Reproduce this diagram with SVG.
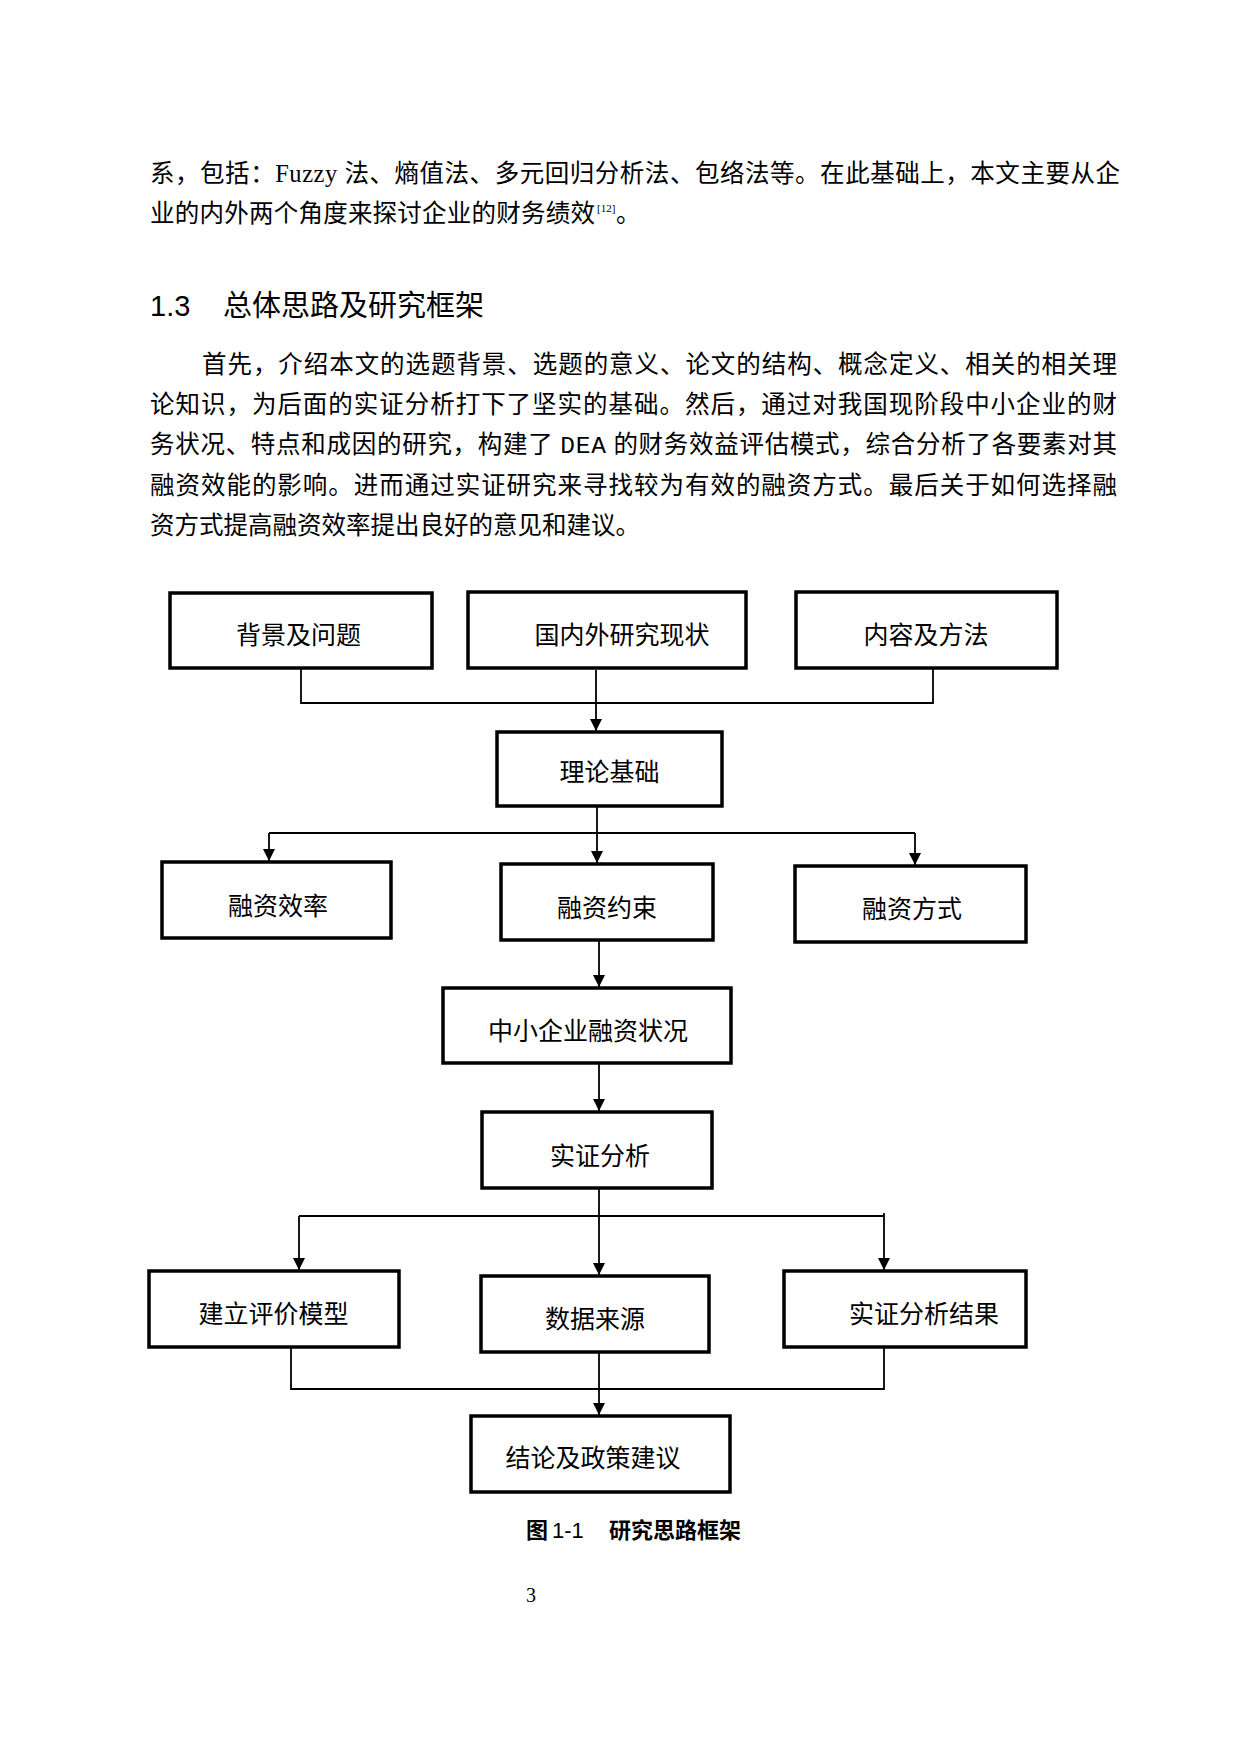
<svg xmlns="http://www.w3.org/2000/svg" width="1240" height="1754" viewBox="0 0 1240 1754">
<style>
.body{font-family:"Liberation Serif","Noto Sans CJK SC",serif;font-size:24.5px;fill:#000}
.mono{font-family:"Liberation Mono","Noto Sans CJK SC",monospace}
.head{font-family:"Noto Sans CJK SC","Liberation Sans",sans-serif;font-size:29px;fill:#000}
.box rect{fill:#fff;stroke:#000;stroke-width:3.5}
.box text{font-family:"Noto Sans CJK SC","Liberation Sans",sans-serif;font-size:25px;fill:#000;text-anchor:middle}
.conn{fill:none;stroke:#000;stroke-width:1.8}
.cap{font-family:"Noto Sans CJK SC","Liberation Sans",sans-serif;font-size:22px;font-weight:bold;fill:#000}
</style>
<defs>
<marker id="arr" markerUnits="userSpaceOnUse" markerWidth="12" markerHeight="12" refX="12" refY="6" orient="auto">
<path d="M0,0 L12,6 L0,12 z" fill="#000"/>
</marker>
</defs>
<rect width="1240" height="1754" fill="#fff"/>

<g id="text-top">
<text class="body" x="150" y="182" textLength="970" lengthAdjust="spacing">系，包括：Fuzzy 法、熵值法、多元回归分析法、包络法等。在此基础上，本文主要从企</text>
<text class="body" x="150" y="222" textLength="445" lengthAdjust="spacing">业的内外两个角度来探讨企业的财务绩效</text>
<text class="body" x="597" y="212" style="font-size:11px">[12]</text>
<text class="body" x="616" y="222">。</text>
</g>

<g id="heading">
<text class="head" x="150" y="315.5" style="font-family:'Liberation Sans',sans-serif">1.3</text>
<text class="head" x="223" y="315.5">总体思路及研究框架</text>
</g>

<g id="paragraph">
<text class="body" x="202" y="373" textLength="915" lengthAdjust="spacing">首先，介绍本文的选题背景、选题的意义、论文的结构、概念定义、相关的相关理</text>
<text class="body" x="150" y="413" textLength="967" lengthAdjust="spacing">论知识，为后面的实证分析打下了坚实的基础。然后，通过对我国现阶段中小企业的财</text>
<text class="body" x="150" y="453" textLength="967" lengthAdjust="spacing">务状况、特点和成因的研究，构建了 <tspan class="mono">DEA</tspan> 的财务效益评估模式，综合分析了各要素对其</text>
<text class="body" x="150" y="493.5" textLength="967" lengthAdjust="spacing">融资效能的影响。进而通过实证研究来寻找较为有效的融资方式。最后关于如何选择融</text>
<text class="body" x="150" y="534" textLength="490" lengthAdjust="spacing">资方式提高融资效率提出良好的意见和建议。</text>
</g>

<g id="connectors">
<polyline class="conn" points="301,668 301,703 933,703 933,668"/>
<line class="conn" x1="596" y1="670" x2="596" y2="731" marker-end="url(#arr)"/>
<line class="conn" x1="597" y1="806" x2="597" y2="863" marker-end="url(#arr)"/>
<line class="conn" x1="269" y1="833" x2="915" y2="833"/>
<line class="conn" x1="269" y1="833" x2="269" y2="861" marker-end="url(#arr)"/>
<line class="conn" x1="915" y1="833" x2="915" y2="865" marker-end="url(#arr)"/>
<line class="conn" x1="599" y1="940" x2="599" y2="987" marker-end="url(#arr)"/>
<line class="conn" x1="599" y1="1063" x2="599" y2="1111" marker-end="url(#arr)"/>
<line class="conn" x1="599" y1="1188" x2="599" y2="1275" marker-end="url(#arr)"/>
<line class="conn" x1="299" y1="1216" x2="884" y2="1216"/>
<line class="conn" x1="299" y1="1216" x2="299" y2="1270" marker-end="url(#arr)"/>
<line class="conn" x1="884" y1="1213" x2="884" y2="1270" marker-end="url(#arr)"/>
<polyline class="conn" points="291,1347 291,1389 884,1389 884,1347"/>
<line class="conn" x1="599" y1="1352" x2="599" y2="1415" marker-end="url(#arr)"/>
</g>

<g id="n1" class="box"><rect x="170" y="593" width="262" height="75"/><text x="298.5" y="643.5">背景及问题</text></g>
<g id="n2" class="box"><rect x="468" y="592" width="278" height="76"/><text x="622" y="643.5">国内外研究现状</text></g>
<g id="n3" class="box"><rect x="796" y="592" width="261" height="76"/><text x="926" y="643.5">内容及方法</text></g>
<g id="n4" class="box"><rect x="497" y="732" width="225" height="74"/><text x="609.5" y="781">理论基础</text></g>
<g id="n5" class="box"><rect x="162" y="862" width="229" height="76"/><text x="278" y="914.5">融资效率</text></g>
<g id="n6" class="box"><rect x="501" y="864" width="212" height="76"/><text x="607" y="916.5">融资约束</text></g>
<g id="n7" class="box"><rect x="795" y="866" width="231" height="76"/><text x="912" y="918">融资方式</text></g>
<g id="n8" class="box"><rect x="443" y="988" width="288" height="75"/><text x="588" y="1040">中小企业融资状况</text></g>
<g id="n9" class="box"><rect x="482" y="1112" width="230" height="76"/><text x="600" y="1164.5">实证分析</text></g>
<g id="n10" class="box"><rect x="149" y="1271" width="250" height="76"/><text x="273.5" y="1322.5">建立评价模型</text></g>
<g id="n11" class="box"><rect x="481" y="1276" width="228" height="76"/><text x="595" y="1327.5">数据来源</text></g>
<g id="n12" class="box"><rect x="784" y="1271" width="242" height="76"/><text x="924" y="1322.5">实证分析结果</text></g>
<g id="n13" class="box"><rect x="471" y="1416" width="259" height="76"/><text x="593" y="1466.5">结论及政策建议</text></g>

<g id="caption">
<text class="cap" x="526" y="1537.5">图</text>
<text class="cap" x="552" y="1537.5" style="font-family:'Liberation Sans',sans-serif;font-weight:normal">1-1</text>
<text class="cap" x="609" y="1537.5">研究思路框架</text>
</g>
<g id="page-number">
<text x="526" y="1602" style="font-family:'Liberation Serif',serif;font-size:20px">3</text>
</g>
</svg>
